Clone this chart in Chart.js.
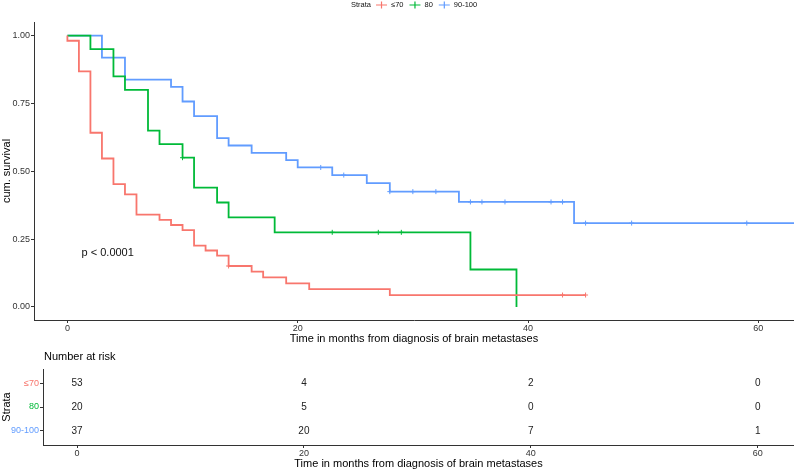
<!DOCTYPE html>
<html>
<head>
<meta charset="utf-8">
<script src="https://cdn.jsdelivr.net/npm/chart.js@4.4.1/dist/chart.umd.min.js"></script>
<style>
body { margin: 0; background: #fff; }
#survWrap { position: absolute; left: 0; top: 0; width: 794px; height: 345px; }
#riskWrap { position: absolute; left: 0; top: 345px; width: 794px; height: 125px; }
</style>
</head>
<body>
<div id="survWrap"><canvas id="survChart" width="794" height="345"></canvas></div>
<div id="riskWrap"><canvas id="riskChart" width="794" height="125"></canvas></div>
<script>
const strata = ['≤70', '80', '90-100'];
const strataColors = ['#F8766D', '#00BA38', '#619CFF'];

// Kaplan-Meier steps: event times (months) and survival after each step
const lowTime = [0, 0, 1, 2, 3, 4, 5, 6, 8, 9, 10, 11, 12, 13, 14, 16, 17, 19, 21, 28, 45];
const lowSurv = [1, 0.981, 0.868, 0.642, 0.547, 0.453, 0.415, 0.340, 0.321, 0.302, 0.283, 0.226, 0.208, 0.189, 0.151, 0.130, 0.109, 0.087, 0.066, 0.044, 0.044];
const lowCensor = [14, 43, 45];

const midTime = [0, 2, 4, 5, 7, 8, 10, 11, 13, 14, 18, 35, 39];
const midSurv = [1, 0.95, 0.85, 0.80, 0.65, 0.60, 0.55, 0.44, 0.385, 0.33, 0.275, 0.138, 0];
const midCensor = [10, 23, 27, 29];

const highTime = [0, 3, 5, 9, 10, 11, 13, 14, 16, 19, 20, 23, 26, 28, 34, 44, 66];
const highSurv = [1, 0.919, 0.838, 0.811, 0.757, 0.703, 0.622, 0.595, 0.568, 0.541, 0.514, 0.486, 0.456, 0.425, 0.387, 0.309, 0.309];
const highCensor = [22, 24, 28, 30, 32, 35, 36, 38, 42, 43, 45, 49, 59];

// number at risk table
const riskTimes = [0, 20, 40, 60];
const lowRisk = [53, 4, 2, 0];
const midRisk = [20, 5, 0, 0];
const highRisk = [37, 20, 7, 1];

const timeTicks = [0, 20, 40, 60];
const survTicks = [0, 0.25, 0.5, 0.75, 1];
const pValueText = 'p < 0.0001';
const pValueAt = [3.5, 0.2];

const FONT = '"Liberation Sans", Arial, sans-serif';
const groups = [
    { time: lowTime, surv: lowSurv, censor: lowCensor, risk: lowRisk },
    { time: midTime, surv: midSurv, censor: midCensor, risk: midRisk },
    { time: highTime, surv: highSurv, censor: highCensor, risk: highRisk }
];

function survAt(g, t) {
    let s = 1;
    g.time.forEach((tt, i) => { if (tt <= t) s = g.surv[i]; });
    return s;
}

const survDatasets = [];
groups.forEach((g, i) => {
    survDatasets.push({
        label: strata[i],
        data: g.time.map((t, j) => ({ x: t, y: g.surv[j] })),
        borderColor: strataColors[i],
        borderWidth: 1.8,
        stepped: true,
        pointRadius: 0,
        fill: false
    });
    survDatasets.push({
        label: strata[i] + ' censored',
        data: g.censor.map(t => ({ x: t, y: survAt(g, t) })),
        showLine: false,
        pointStyle: 'cross',
        pointRadius: 2.5,
        borderWidth: 1,
        borderColor: strataColors[i]
    });
});

const survExtras = {
    id: 'survExtras',
    afterDraw(chart) {
        const ctx = chart.ctx;
        const xs = chart.scales.x, ys = chart.scales.y;
        ctx.save();
        ctx.fillStyle = '#111';
        ctx.textAlign = 'center';
        ctx.textBaseline = 'middle';
        ctx.font = '11px ' + FONT;
        ctx.fillText(pValueText, xs.getPixelForValue(pValueAt[0]), ys.getPixelForValue(pValueAt[1]));

        // legend
        ctx.font = '7.5px ' + FONT;
        ctx.textAlign = 'left';
        let x = 351;
        const y = 5;
        ctx.fillText('Strata', x, y);
        x += ctx.measureText('Strata').width + 5;
        strata.forEach((s, i) => {
            ctx.strokeStyle = strataColors[i];
            ctx.lineWidth = 1.2;
            ctx.beginPath();
            ctx.moveTo(x, y); ctx.lineTo(x + 11, y);
            ctx.moveTo(x + 5.5, y - 3.5); ctx.lineTo(x + 5.5, y + 3.5);
            ctx.stroke();
            x += 15;
            ctx.fillText(s, x, y);
            x += ctx.measureText(s).width + 6;
        });
        ctx.restore();
    }
};

new Chart(document.getElementById('survChart').getContext('2d'), {
    type: 'line',
    data: { datasets: survDatasets },
    options: {
        responsive: false,
        animation: false,
        layout: { autoPadding: false, padding: { top: 22, right: 0, bottom: 0, left: 0 } },
        plugins: { legend: { display: false }, tooltip: { enabled: false } },
        scales: {
            x: {
                type: 'linear',
                min: -2.9,
                max: 63.1,
                afterFit: s => { s.height = 25; },
                afterBuildTicks: s => { s.ticks = timeTicks.map(v => ({ value: v })); },
                grid: { drawOnChartArea: false, tickLength: 3, tickColor: '#333' },
                border: { color: '#333', width: 1 },
                ticks: { font: { size: 9, family: FONT }, color: '#333', padding: 0, maxRotation: 0 },
                title: { display: true, text: 'Time in months from diagnosis of brain metastases',
                    font: { size: 11, family: FONT }, color: '#000', padding: { top: 0, bottom: -1 } }
            },
            y: {
                min: -0.048,
                max: 1.05,
                afterFit: s => { s.width = 34; },
                afterBuildTicks: s => { s.ticks = survTicks.map(v => ({ value: v })); },
                grid: { drawOnChartArea: false, tickLength: 3, tickColor: '#333' },
                border: { color: '#333', width: 1 },
                ticks: { font: { size: 9, family: FONT }, color: '#333', padding: 1,
                    callback: v => v.toFixed(2) },
                title: { display: true, text: 'cum. survival',
                    font: { size: 11, family: FONT }, color: '#000', padding: 0 }
            }
        }
    },
    plugins: [survExtras]
});

// risk table
const riskDatasets = groups.map((g, i) => ({
    label: strata[i],
    data: riskTimes.map((t, j) => ({ x: t, y: i + 1, n: g.risk[j] })),
    pointRadius: 0
}));

const riskText = {
    id: 'riskText',
    afterDraw(chart) {
        const ctx = chart.ctx;
        ctx.save();
        ctx.fillStyle = '#222';
        ctx.textAlign = 'center';
        ctx.textBaseline = 'middle';
        ctx.font = '10px ' + FONT;
        chart.data.datasets.forEach((ds, i) => {
            chart.getDatasetMeta(i).data.forEach((pt, j) => {
                ctx.fillText(String(ds.data[j].n), pt.x, pt.y);
            });
        });
        ctx.textAlign = 'left';
        ctx.fillStyle = '#000';
        ctx.font = '11px ' + FONT;
        ctx.fillText('Number at risk', chart.chartArea.left + 1, 12);
        ctx.restore();
    }
};

new Chart(document.getElementById('riskChart').getContext('2d'), {
    type: 'scatter',
    data: { datasets: riskDatasets },
    options: {
        responsive: false,
        animation: false,
        layout: { autoPadding: false, padding: { top: 24, right: 0, bottom: 0, left: 0 } },
        plugins: { legend: { display: false }, tooltip: { enabled: false } },
        scales: {
            x: {
                type: 'linear',
                min: -3,
                max: 63.2,
                afterFit: s => { s.height = 25; },
                afterBuildTicks: s => { s.ticks = timeTicks.map(v => ({ value: v })); },
                grid: { drawOnChartArea: false, tickLength: 3, tickColor: '#333' },
                border: { color: '#333', width: 1 },
                ticks: { font: { size: 9, family: FONT }, color: '#333', padding: 0, maxRotation: 0 },
                title: { display: true, text: 'Time in months from diagnosis of brain metastases',
                    font: { size: 11, family: FONT }, color: '#000', padding: { top: 0, bottom: -1 } }
            },
            y: {
                min: 0.4,
                max: 3.6,
                reverse: true,
                afterFit: s => { s.width = 43; },
                afterBuildTicks: s => { s.ticks = strata.map((_, i) => ({ value: i + 1 })); },
                grid: { drawOnChartArea: false, tickLength: 3, tickColor: '#333' },
                border: { color: '#333', width: 1 },
                ticks: { font: { size: 9, family: FONT }, padding: 1,
                    color: c => strataColors[c.index],
                    callback: v => strata[v - 1] },
                title: { display: true, text: 'Strata',
                    font: { size: 11, family: FONT }, color: '#000', padding: 0 }
            }
        }
    },
    plugins: [riskText]
});
</script>
</body>
</html>
